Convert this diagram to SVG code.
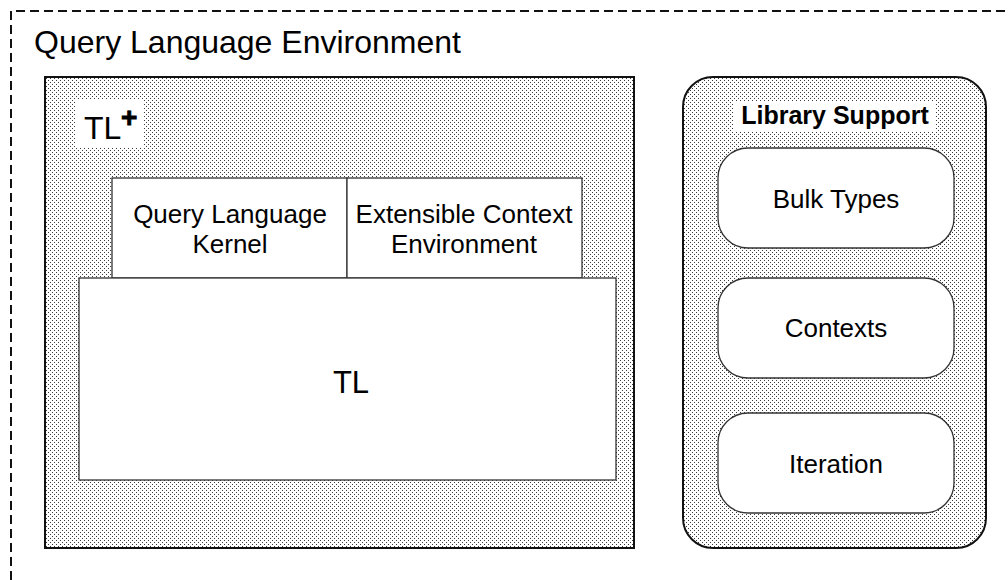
<svg xmlns="http://www.w3.org/2000/svg" width="1008" height="580" viewBox="0 0 1008 580">
  <defs>
    <!-- fine stipple used as the fill of the two container areas -->
    <pattern id="stipple" width="4" height="4" patternUnits="userSpaceOnUse">
      <rect width="4" height="4" fill="#ffffff"/>
      <rect x="0" y="0" width="1" height="1" fill="#3a3a3a"/>
      <rect x="2" y="2" width="1" height="1" fill="#3a3a3a"/>
    </pattern>
  </defs>
  <style>
    text { font-family: "Liberation Sans", Arial, sans-serif; fill: #000; }
    .container { fill: url(#stipple); stroke: #111; stroke-width: 2; }
    .box { fill: #fff; stroke: #333; stroke-width: 1.3; }
    .lbl { font-size: 26px; text-anchor: middle; }
    .env { fill: none; stroke: #111; stroke-width: 2; stroke-dasharray: 9 5; }
  </style>
  <rect width="1008" height="580" fill="#ffffff"/>

  <!-- environment boundary (runs past the page edge on the right and bottom) -->
  <g id="environment">
    <path class="env" d="M11 580 L11 11 L1008 11"/>
    <text x="34" y="53" font-size="32">Query Language Environment</text>
  </g>

  <!-- TL+ container with its kernel components -->
  <g id="tlplus">
    <rect class="container" x="45" y="77" width="589" height="471"/>
    <rect x="76" y="99" width="68" height="48" fill="#fff"/>
    <text x="84" y="139" font-size="32">TL</text>
    <text x="121" y="127" font-size="28" font-weight="bold" stroke="#000" stroke-width="0.9">+</text>
  </g>
  <g id="kernel">
    <rect class="box" x="112" y="178" width="235" height="100"/>
    <text class="lbl" x="230" y="223">Query Language</text>
    <text class="lbl" x="230" y="253">Kernel</text>
  </g>
  <g id="context-env">
    <rect class="box" x="347" y="178" width="235" height="100"/>
    <text class="lbl" x="464" y="223">Extensible Context</text>
    <text class="lbl" x="464" y="253">Environment</text>
  </g>
  <g id="tl">
    <rect class="box" x="79" y="278" width="537" height="202"/>
    <text x="351" y="393" font-size="31" text-anchor="middle">TL</text>
  </g>

  <!-- library support column -->
  <g id="library">
    <rect class="container" x="683" y="77" width="303" height="471" rx="30" ry="30"/>
    <rect x="733" y="102" width="202" height="29" fill="#fff"/>
    <text x="835" y="124" font-size="25" font-weight="bold" text-anchor="middle">Library Support</text>
  </g>
  <g id="bulk-types">
    <rect class="box" x="718" y="148" width="236" height="100" rx="30" ry="30"/>
    <text class="lbl" x="836" y="208">Bulk Types</text>
  </g>
  <g id="contexts">
    <rect class="box" x="718" y="278" width="236" height="100" rx="30" ry="30"/>
    <text class="lbl" x="836" y="337">Contexts</text>
  </g>
  <g id="iteration">
    <rect class="box" x="718" y="413" width="236" height="100" rx="30" ry="30"/>
    <text class="lbl" x="836" y="473">Iteration</text>
  </g>

  <g id="connectors"></g>
</svg>
